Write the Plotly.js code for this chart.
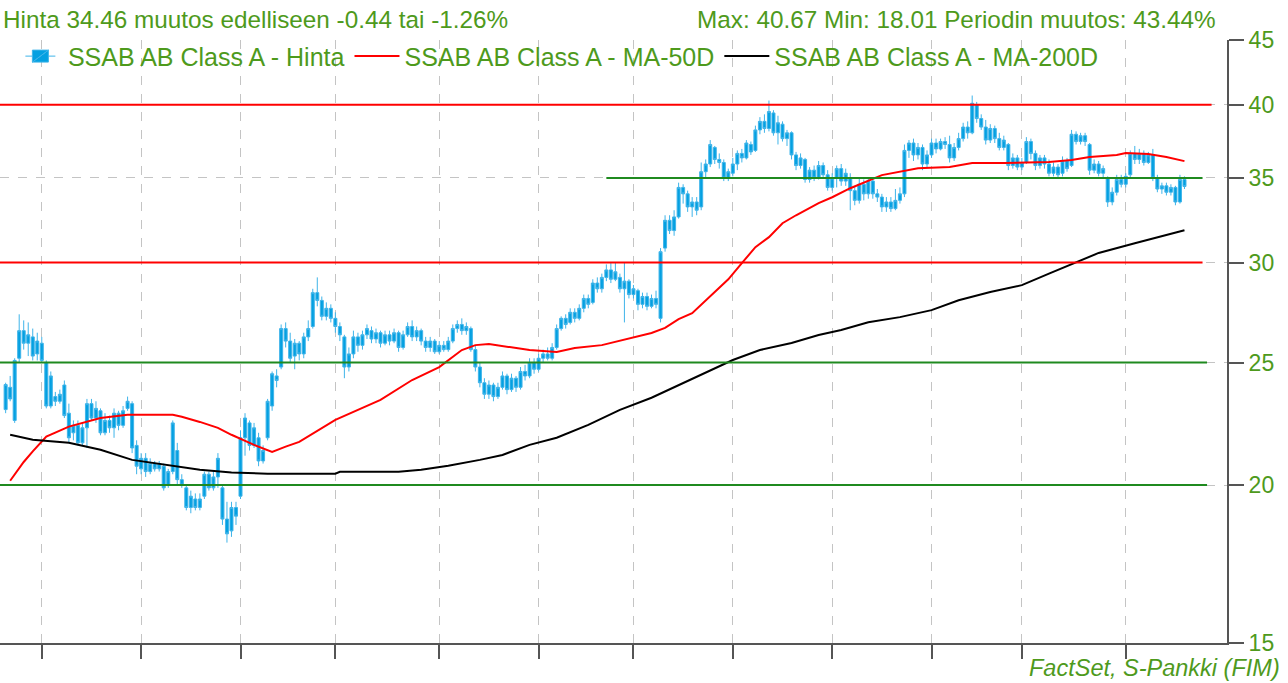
<!DOCTYPE html>
<html>
<head>
<meta charset="utf-8">
<script src="https://cdn.plot.ly/plotly-3.0.1.min.js"></script>
<style>html,body{margin:0;padding:0;background:#fff;}#chart{width:1288px;height:683px;}</style>
</head>
<body>
<div id="chart"></div>
<script>
// ---- data (SSAB AB Class A, daily, weekdays from 2016-04-20) ----
var firstDate = '2016-04-20';
var openP = [
22.95,23.9,22.5,25.2,26.5,25.9,26.2,25.4,25.9,25.0,23.1,23.5,23.3,24.0,22.8,22.0,22.3,21.6,22.2,23.2,
22.6,22.9,22.0,22.5,22.2,22.8,22.3,23.0,23.2,21.5,20.6,21.0,20.5,20.8,20.6,20.7,20.0,20.5,21.3,20.2,
19.9,19.2,19.5,19.2,19.6,20.4,19.9,20.3,19.9,18.8,18.4,19.2,19.6,21.8,22.4,21.5,21.8,20.9,21.8,23.1,
24.4,24.8,26.6,26.0,25.3,25.9,25.4,26.2,26.7,28.4,28.0,27.2,27.6,27.1,26.7,26.2,24.8,25.4,26.2,25.8,
26.3,26.5,26.1,26.4,25.9,26.3,26.0,26.4,25.7,26.3,26.7,26.2,26.5,26.0,25.7,26.0,25.5,25.8,25.6,26.0,
26.6,26.8,26.5,26.6,25.6,24.8,24.1,23.6,24.0,23.5,23.9,24.4,23.8,24.3,23.9,24.6,24.4,25.0,24.7,25.2,
25.4,25.2,25.7,26.6,27.1,26.9,27.4,27.1,27.6,28.1,27.9,28.9,28.6,29.2,29.6,29.1,29.2,28.6,29.0,28.3,
28.5,27.8,28.2,27.7,28.1,27.1,30.8,32.4,31.8,32.6,34.4,34.0,33.2,33.5,33.2,35.4,35.9,37.0,36.2,36.0,
35.0,35.3,35.9,36.6,36.3,37.2,36.8,38.2,38.8,38.3,39.4,38.0,38.6,37.6,38.0,36.5,35.8,36.2,34.9,35.5,
35.0,35.8,35.2,34.4,35.0,35.6,34.8,35.0,34.2,33.6,34.6,34.0,34.8,34.0,33.8,33.2,33.5,33.1,33.6,34.0,
36.8,37.3,36.5,37.0,35.9,36.5,37.3,36.9,37.4,37.2,36.3,37.0,37.6,38.4,38.0,40.0,39.0,38.4,37.5,38.3,
37.6,37.0,37.2,35.8,36.3,35.7,36.0,37.4,36.6,35.8,36.3,35.9,35.3,35.7,35.3,36.1,35.8,37.9,37.4,37.8,
37.2,35.5,35.9,35.3,35.0,33.5,34.1,34.9,34.6,35.2,36.6,36.2,36.6,36.0,36.5,35.0,34.3,34.5,34.1,34.4,
33.5,34.9];
var highP = [
24.1,24.4,25.2,27.3,27.0,26.9,26.6,26.4,26.2,25.1,24.6,23.7,23.8,24.2,23.2,22.5,22.5,22.4,23.4,23.4,
23.3,23.0,22.8,22.7,23.0,22.9,23.1,23.5,23.3,21.7,21.2,21.2,21.0,20.9,20.9,20.8,20.6,22.5,21.6,20.4,
20.0,19.8,19.7,19.7,20.5,20.5,20.5,21.2,20.0,19.4,19.4,19.4,22.1,22.8,22.5,22.4,22.0,21.5,23.4,24.6,
24.7,26.8,26.9,26.4,26.1,26.0,26.4,27.0,28.6,29.2,28.2,27.9,27.8,27.4,26.9,26.3,25.7,26.5,26.4,26.5,
26.8,26.7,26.6,26.5,26.5,26.5,26.6,26.5,26.5,26.9,27.0,26.7,26.6,26.2,26.2,26.1,26.0,26.0,26.2,26.8,
27.0,27.1,26.9,26.7,25.8,25.0,24.3,24.2,24.1,24.1,24.6,24.5,24.5,24.4,24.8,24.9,25.2,25.2,25.4,25.6,
25.7,25.9,26.8,27.2,27.3,27.6,27.6,27.8,28.3,28.3,29.1,29.2,29.4,29.9,30.0,30.0,29.4,30.0,29.1,28.8,
28.6,28.4,28.4,28.3,28.5,30.8,32.7,32.7,33.0,34.7,34.6,34.2,33.8,33.8,36.0,36.2,37.5,37.1,36.6,36.2,
35.6,36.3,36.8,36.9,37.5,37.4,38.5,39.1,39.3,40.3,39.6,39.2,38.8,38.2,38.1,36.7,36.6,36.3,35.7,35.8,
36.1,36.0,35.5,35.3,35.8,35.9,35.6,35.3,34.5,35.0,34.9,35.0,35.0,34.3,34.0,33.8,33.8,34.3,34.4,37.2,
37.5,37.6,37.3,37.2,36.8,37.6,37.6,37.6,37.7,37.8,37.3,38.0,38.7,38.8,40.67,40.2,39.3,38.9,38.6,38.5,
38.0,37.8,37.3,36.6,36.5,36.3,37.7,37.6,36.8,36.5,36.5,36.2,36.0,35.9,36.4,36.3,38.2,38.1,38.0,38.0,
37.3,36.2,36.1,35.8,35.1,34.4,35.2,35.2,35.3,36.8,37.1,36.9,36.8,36.7,36.9,35.2,34.7,34.7,34.6,34.5,
35.2,35.1];
var lowP = [
22.8,23.3,22.4,25.0,25.6,25.3,25.1,25.1,25.0,23.0,23.0,23.1,23.2,22.6,21.6,21.7,21.5,21.5,21.4,22.5,
22.4,21.9,21.9,22.0,21.8,22.1,22.2,22.9,21.2,20.4,20.4,20.3,20.4,20.5,20.5,19.8,19.9,20.4,20.0,19.9,
19.1,19.0,19.1,19.1,19.5,19.8,19.8,19.9,18.6,18.01,18.2,18.6,19.5,21.1,21.3,21.4,20.7,20.8,21.7,22.9,
23.9,24.7,25.7,25.0,24.7,25.1,25.2,26.0,26.6,27.7,27.0,27.0,26.9,26.4,26.0,24.3,24.6,25.2,25.5,25.6,
26.1,25.9,25.9,25.7,25.8,25.8,25.9,25.5,25.6,26.2,26.0,26.0,25.8,25.5,25.5,25.4,25.4,25.5,25.5,25.9,
26.4,26.3,26.3,25.5,24.6,23.9,23.4,23.4,23.3,23.4,23.8,23.6,23.7,23.7,23.8,24.2,24.3,24.5,24.6,25.0,
25.1,25.1,25.6,26.5,26.6,26.8,26.9,27.0,27.4,27.6,27.8,28.4,28.4,29.0,28.9,29.0,28.4,26.9,28.1,28.1,
27.5,27.6,27.5,27.6,27.6,26.9,30.6,31.6,31.5,32.5,33.4,32.9,32.6,32.7,33.0,35.0,35.7,35.9,35.6,34.8,
34.8,35.1,35.5,36.0,36.2,36.5,36.7,37.9,38.0,38.1,37.8,37.2,37.4,37.1,36.2,35.5,35.6,34.7,34.7,34.8,
34.9,35.0,34.2,34.2,34.4,34.5,34.5,33.0,33.3,33.4,33.6,33.7,33.7,33.5,32.9,32.9,32.9,33.0,33.4,33.8,
36.3,36.1,36.2,35.5,35.7,36.3,36.6,36.8,36.9,36.0,36.1,36.8,37.4,37.6,37.9,38.7,38.2,37.2,37.3,37.3,
36.8,36.8,35.5,35.6,35.5,35.5,35.9,36.2,35.5,35.6,35.6,35.1,35.1,35.0,35.1,35.4,35.7,37.2,37.2,37.1,
35.2,35.3,35.1,35.0,33.2,33.3,33.9,34.4,34.4,35.0,35.9,35.9,35.8,35.9,34.8,34.1,34.0,33.9,33.9,33.3,
33.4,34.3];
var closeP = [
24.02,23.4,25.1,26.5,25.9,26.3,25.3,26.0,25.1,23.1,24.4,23.3,23.6,22.7,21.8,22.3,21.6,22.2,23.2,22.6,
23.0,22.0,22.5,22.2,22.8,22.3,22.9,23.3,21.4,20.7,21.0,20.5,20.8,20.6,20.8,19.9,20.5,22.4,20.2,20.0,
19.2,19.6,19.2,19.5,20.4,19.9,20.3,21.0,18.8,18.3,19.2,18.9,21.8,22.6,21.5,22.2,20.9,21.3,23.3,24.5,
24.2,26.6,26.0,25.2,25.9,25.4,26.2,26.6,28.4,28.0,27.2,27.6,27.1,26.7,26.3,24.8,25.4,26.2,25.8,26.3,
26.6,26.1,26.4,25.9,26.3,26.0,26.4,25.7,26.3,26.7,26.2,26.5,26.0,25.7,26.0,25.5,25.8,25.6,26.0,26.6,
26.8,26.5,26.7,25.6,24.8,24.1,23.6,24.0,23.5,23.9,24.4,23.8,24.3,23.9,24.6,24.4,25.0,24.7,25.2,25.4,
25.2,25.7,26.6,27.1,26.8,27.4,27.1,27.6,28.1,27.8,28.9,28.6,29.2,29.6,29.1,29.5,28.6,29.0,28.3,28.6,
27.8,28.2,27.7,28.1,27.8,30.6,32.4,31.8,32.6,34.4,34.0,33.2,33.5,33.0,35.4,35.9,37.2,36.2,36.0,35.0,
35.4,35.9,36.6,36.3,37.3,36.7,38.2,38.8,38.3,39.5,38.0,38.7,37.6,38.0,36.5,35.8,36.3,34.9,35.5,35.0,
35.8,35.2,34.4,35.0,35.6,34.8,35.3,34.2,33.6,34.6,34.0,34.8,34.0,33.8,33.2,33.5,33.1,33.6,34.0,36.8,
37.3,36.5,37.0,35.9,36.5,37.3,36.9,37.4,37.2,36.3,37.0,37.6,38.4,38.0,40.1,39.0,38.4,37.5,38.3,37.6,
37.0,37.5,35.8,36.3,35.7,36.0,37.4,36.6,35.8,36.3,35.9,35.3,35.7,35.2,36.1,35.6,37.9,37.4,37.8,37.4,
35.5,35.9,35.3,35.6,33.5,34.1,34.9,34.6,35.1,36.6,36.2,36.6,36.0,36.5,35.0,34.3,34.5,34.1,34.4,33.5,
34.9,34.46];

// moving averages, read at selected trading-day indices
var ma50Idx = [1,4,6,9,14,17,21,27,37,39,43,47,50,55,59,62,65,73,83,90,96,101,104,107,112,116,122,126,132,138,143,146,149,152,155,158,160,163,166,169,172,175,177,180,183,187,194,202,209,214,221,231,236,240,246,248,253,257,261];
var ma50Val = [20.16,20.86,21.27,21.85,22.25,22.40,22.60,22.73,22.73,22.65,22.44,22.20,21.92,21.52,21.25,21.45,21.64,22.52,23.36,24.22,24.80,25.58,25.81,25.86,25.72,25.58,25.49,25.67,25.81,26.14,26.39,26.63,27.06,27.36,28.01,28.69,29.10,29.97,30.85,31.42,32.23,32.70,33.00,33.43,33.79,34.35,35.18,35.63,35.70,35.96,35.96,36.03,36.16,36.36,36.49,36.62,36.56,36.36,36.09];
var ma200Idx = [1,6,14,21,28,36,43,50,58,65,73,74,87,92,98,105,110,116,122,129,136,143,149,156,161,167,174,180,185,191,198,205,211,218,225,231,238,242,250,257,261];
var ma200Val = [21.92,21.72,21.60,21.33,20.94,20.75,20.57,20.46,20.42,20.42,20.42,20.49,20.49,20.57,20.72,20.94,21.13,21.52,21.80,22.32,22.94,23.45,24.00,24.67,25.12,25.58,25.91,26.29,26.53,26.91,27.16,27.51,28.01,28.43,28.79,29.40,30.10,30.53,31.07,31.53,31.82];

// horizontal levels
var levelVals   = [40, 30, 35, 25, 20];
var levelColors = ['#ff0000', '#ff0000', '#1f8a1f', '#1f8a1f', '#1f8a1f'];
var levelStart  = ['2016-04-18', '2016-04-18', '2016-10-24', '2016-04-18', '2016-04-18'];
var levelEnd    = ['2017-04-28', '2017-04-26', '2017-04-26', '2017-04-27', '2017-04-27'];

var yTicks = [15, 20, 25, 30, 35, 40, 45];
// first trading day of each month
var monthTicks = ['2016-05-02','2016-06-01','2016-07-01','2016-08-01','2016-09-01','2016-10-03','2016-11-01','2016-12-01','2017-01-02','2017-02-01','2017-03-01','2017-04-03'];

var headLeft  = 'Hinta 34.46 muutos edelliseen -0.44 tai -1.26%';
var headRight = 'Max: 40.67 Min: 18.01 Periodin muutos: 43.44%';
var source    = 'FactSet, S-Pankki (FIM)';
var names = ['SSAB AB Class A - Hinta', 'SSAB AB Class A - MA-50D', 'SSAB AB Class A - MA-200D'];

// ---- trading-day calendar (weekdays) ----
function weekdays(start, n) {
  var out = [], d = new Date(start + 'T00:00:00Z');
  while (out.length < n) {
    var wd = d.getUTCDay();
    if (wd !== 0 && wd !== 6) out.push(d.toISOString().slice(0, 10));
    d.setUTCDate(d.getUTCDate() + 1);
  }
  return out;
}
var dates = weekdays(firstDate, closeP.length);
function pick(idx) { return idx.map(function (i) { return dates[i]; }); }

var GREEN_TXT = '#4e9a1c';
var FONT = 'Liberation Sans, Arial, sans-serif';

var traces = [
  {
    type: 'candlestick', name: names[0], x: dates,
    open: openP, high: highP, low: lowP, close: closeP,
    increasing: {line: {color: '#3fb4e9', width: 1}, fillcolor: '#04a0e1'},
    decreasing: {line: {color: '#3fb4e9', width: 1}, fillcolor: '#04a0e1'},
    whiskerwidth: 0, hoverinfo: 'skip'
  },
  {type: 'scatter', mode: 'lines', name: names[1], x: pick(ma50Idx), y: ma50Val,
   line: {color: '#ff0000', width: 2}, hoverinfo: 'skip'},
  {type: 'scatter', mode: 'lines', name: names[2], x: pick(ma200Idx), y: ma200Val,
   line: {color: '#000000', width: 2}, hoverinfo: 'skip'}
];

var shapes = levelVals.map(function (v, k) {
  return {type: 'line', xref: 'x', yref: 'y', x0: levelStart[k], x1: levelEnd[k], y0: v, y1: v,
          line: {color: levelColors[k], width: 2}, layer: 'above'};
});

var layout = {
  width: 1288, height: 683,
  margin: {l: 0, r: 61, t: 40, b: 40},
  paper_bgcolor: '#ffffff', plot_bgcolor: '#ffffff',
  font: {family: FONT, color: GREEN_TXT, size: 20},
  boxgap: 0.05,
  showlegend: true,
  legend: {orientation: 'h', x: 0.0105, y: 1.011, xanchor: 'left', yanchor: 'top',
           bgcolor: 'rgba(0,0,0,0)', font: {size: 25, color: GREEN_TXT, family: FONT},
           traceorder: 'normal', itemwidth: 45},
  xaxis: {
    type: 'date', range: ['2016-04-18 18:00', '2017-05-03 10:00'],
    rangebreaks: [{bounds: ['sat', 'mon']}],
    rangeslider: {visible: false},
    tickmode: 'array', tickvals: monthTicks, showticklabels: false,
    ticks: 'outside', ticklen: 14, tickwidth: 2, tickcolor: '#555555',
    showline: true, linecolor: '#555555', linewidth: 2,
    showgrid: true, gridcolor: '#c4c4c4', griddash: 'dash', gridwidth: 1,
    zeroline: false, fixedrange: true
  },
  yaxis: {
    type: 'log', side: 'right',
    range: [Math.log10(15), Math.log10(45)],
    tickmode: 'array', tickvals: yTicks, ticktext: yTicks.map(String),
    ticks: 'outside', ticklen: 15, tickwidth: 2, tickcolor: '#555555',
    showline: true, linecolor: '#555555', linewidth: 2,
    showgrid: true, gridcolor: '#c4c4c4', griddash: 'dash', gridwidth: 1,
    tickfont: {size: 23, color: GREEN_TXT, family: FONT},
    zeroline: false, fixedrange: true
  },
  shapes: shapes,
  annotations: [
    {xref: 'paper', yref: 'paper', x: 0, y: 1, xanchor: 'left', yanchor: 'middle',
     xshift: 1, yshift: 21, text: headLeft, showarrow: false,
     font: {size: 24.3, color: GREEN_TXT, family: FONT}},
    {xref: 'paper', yref: 'paper', x: 1, y: 1, xanchor: 'right', yanchor: 'middle',
     xshift: -9, yshift: 21, text: headRight, showarrow: false,
     font: {size: 24.3, color: GREEN_TXT, family: FONT}},
    {xref: 'paper', yref: 'paper', x: 1, y: 0, xanchor: 'right', yanchor: 'bottom',
     xshift: 54, yshift: -39, borderpad: 0, text: '<i>' + source + '</i>', showarrow: false,
     font: {size: 23.5, color: GREEN_TXT, family: FONT}}
  ]
};

Plotly.newPlot('chart', traces, layout, {displayModeBar: false, staticPlot: true});
</script>
</body>
</html>
